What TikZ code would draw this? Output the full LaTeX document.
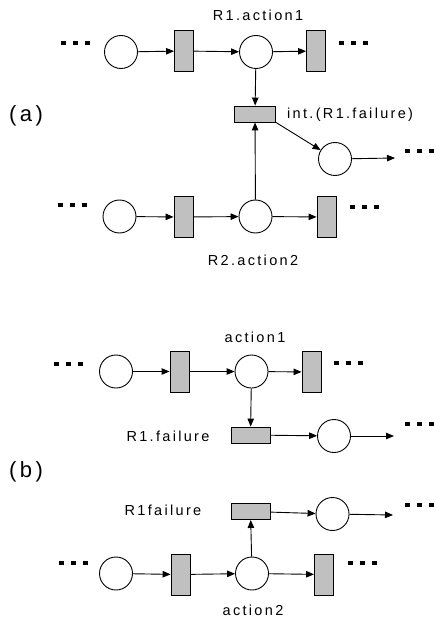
\documentclass[tikz,border=0pt]{standalone}
\usepackage{fontspec}
\setmainfont{Liberation Sans}
\newfontfamily\lblfont{Liberation Sans}[LetterSpace=16]
\usetikzlibrary{arrows.meta}
\definecolor{trgray}{HTML}{C0C0C0}
\newcommand{\ellipsisdots}{\rule{5pt}{4.5pt}\hspace{7pt}\rule{5pt}{4.5pt}\hspace{7pt}\rule{5pt}{4.5pt}}
\tikzset{
  place/.style={circle, draw, line width=0.9pt, fill=white, minimum size=33pt, inner sep=0pt},
  vtrans/.style={rectangle, draw, line width=0.9pt, fill=trgray, minimum width=19pt, minimum height=41pt, inner sep=0pt},
  htrans/.style={rectangle, draw, line width=0.9pt, fill=trgray, minimum width=40pt, minimum height=16pt, inner sep=0pt},
  more/.style={inner sep=0pt, font=\normalsize},
  lbl/.style={inner sep=0pt, font=\lblfont\fontsize{14.5}{16}\selectfont},
  part/.style={inner sep=0pt, font=\lblfont\fontsize{22}{24}\selectfont},
  arc/.style={line width=0.9pt, -{Triangle[length=8pt,width=6.5pt]}},
  flat/.style={line width=0.9pt}
}
\begin{document}
\begin{tikzpicture}[x=1pt, y=-1pt]
\useasboundingbox (0,0) rectangle (433,628);

% ---------- (a) ----------
\node[part] (la) at (26,116) {(a)};

% upper row
\node[more] (a1d) at (75,43) {\ellipsisdots};
\node[place] (a1p1) at (121,52) {};
\node[vtrans] (a1t1) at (184,51) {};
\node[place] (a1p2) at (256,52) {};
\node[vtrans] (a1t2) at (316,51) {};
\node[more] (a1e) at (353,43) {\ellipsisdots};
\node[lbl] (a1l) at (258,15) {R1.action1};

% interrupt transition
\node[htrans, minimum width=41pt] (aint) at (255,114) {};
\node[lbl, anchor=west] (aintl) at (287,115) {int.(R1.failure)};
\node[place] (afp) at (335,159) {};
\node[more, anchor=west] (afe) at (405,151) {\ellipsisdots};
\coordinate (afend) at (395,158);

% lower row
\node[more] (a2d) at (72,205) {\ellipsisdots};
\node[place] (a2p1) at (119.5,216.5) {};
\node[vtrans] (a2t1) at (183.5,217) {};
\node[place] (a2p2) at (255.5,216.5) {};
\node[vtrans] (a2t2) at (326.5,217) {};
\node[more] (a2e) at (364,207) {\ellipsisdots};
\node[lbl] (a2l) at (253,260) {R2.action2};

\draw[arc] (a1p1) -- (a1t1);
\draw[arc] (a1t1) -- (a1p2);
\draw[arc] (a1p2) -- (a1t2);
\draw[arc] (a1p2) -- (aint);
\draw[arc] (aint.south east) -- (afp);
\draw[arc] (afp) -- (afend);
\draw[arc] (a2p1) -- (a2t1);
\draw[arc] (a2t1) -- (a2p2);
\draw[arc] (a2p2) -- (a2t2);
\draw[arc] (a2p2) -- (aint);

% ---------- (b) ----------
\node[part] (lb) at (26,472) {(b)};

% upper row
\node[more] (b1d) at (68,364) {\ellipsisdots};
\node[place] (b1p1) at (116,371.5) {};
\node[vtrans] (b1t1) at (179.5,371.5) {};
\node[place] (b1p2) at (251.5,371.5) {};
\node[vtrans] (b1t2) at (311.5,372) {};
\node[more] (b1e) at (348,363) {\ellipsisdots};
\node[lbl] (b1l) at (255,337) {action1};

\node[htrans, minimum width=39pt] (bf1) at (250.5,435) {};
\node[lbl] (bf1l) at (168,436) {R1.failure};
\node[place] (bf1p) at (334,436) {};
\coordinate (bf1end) at (394,436);
\node[more, anchor=west] (bf1e) at (405,424) {\ellipsisdots};

% lower row
\node[htrans, minimum width=39pt] (bf2) at (250.5,511.5) {};
\node[lbl] (bf2l) at (163,510) {R1failure};
\node[place] (bf2p) at (332.5,514) {};
\coordinate (bf2end) at (393,515);
\node[more, anchor=west] (bf2e) at (405,505) {\ellipsisdots};

\node[more] (b2d) at (73,563) {\ellipsisdots};
\node[place] (b2p1) at (116,573.5) {};
\node[vtrans] (b2t1) at (180.5,574.5) {};
\node[place] (b2p2) at (252,573.5) {};
\node[vtrans] (b2t2) at (324,574.5) {};
\node[more] (b2e) at (362,563) {\ellipsisdots};
\node[lbl] (b2l) at (253,610) {action2};

\draw[arc] (b1p1) -- (b1t1);
\draw[arc] (b1t1) -- (b1p2);
\draw[arc] (b1p2) -- (b1t2);
\draw[arc] (b1p2) -- (bf1);
\draw[arc] (bf1) -- (bf1p);
\draw[arc] (bf1p) -- (bf1end);
\draw[arc] (b2p1) -- (b2t1);
\draw[arc] (b2t1) -- (b2p2);
\draw[arc] (b2p2) -- (b2t2);
\draw[arc] (b2p2) -- (bf2);
\draw[arc] (bf2) -- (bf2p);
\draw[arc] (bf2p) -- (bf2end);
\end{tikzpicture}
\end{document}
